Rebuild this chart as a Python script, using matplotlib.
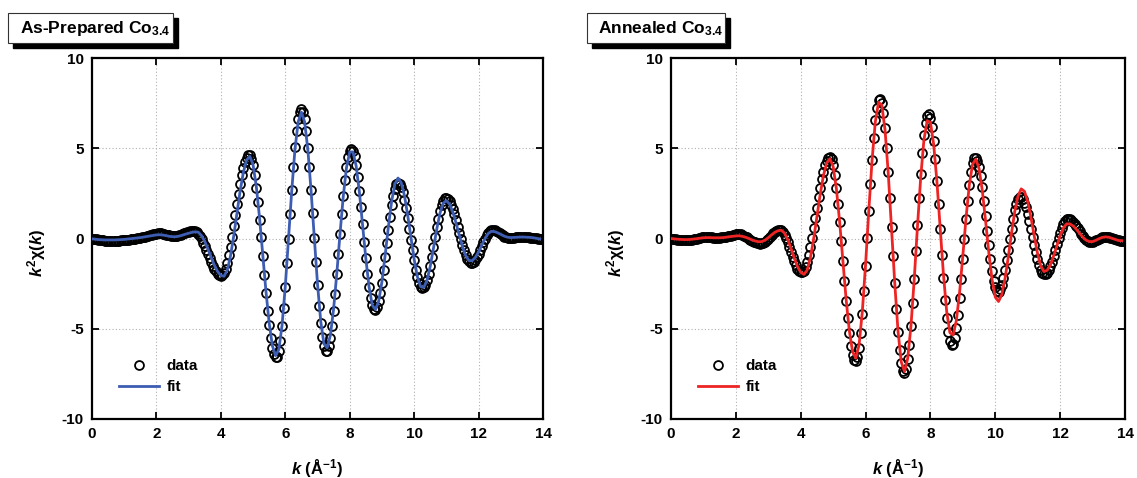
import numpy as np
import matplotlib
matplotlib.use("Agg")
import matplotlib.pyplot as plt
from matplotlib.patches import Rectangle
from matplotlib.lines import Line2D

plt.rcParams['font.family'] = ['Liberation Sans', 'DejaVu Sans']
plt.rcParams['font.weight'] = 'bold'
plt.rcParams['mathtext.fontset'] = 'custom'
plt.rcParams['mathtext.rm'] = 'Liberation Sans:bold'
plt.rcParams['mathtext.it'] = 'Liberation Sans:italic:bold'
plt.rcParams['mathtext.bf'] = 'Liberation Sans:bold'
plt.rcParams['axes.unicode_minus'] = False

# ---------------- data ----------------
K_STEP_DATA = 0.05
K_STEP_FIT = 0.1

asprep_data = [
    0.00, -0.02, -0.04, -0.05, -0.07, -0.08, -0.10, -0.11, -0.12, -0.12, -0.13, -0.13, -0.13, -0.13, -0.13, -0.13, -0.12, -0.12, -0.11, -0.11,
    -0.10, -0.09, -0.07, -0.06, -0.04, -0.03, -0.01, 0.00, 0.02, 0.03, 0.05, 0.07, 0.09, 0.11, 0.13, 0.15, 0.18, 0.20, 0.23, 0.25,
    0.27, 0.28, 0.28, 0.28, 0.26, 0.24, 0.22, 0.19, 0.17, 0.15, 0.14, 0.13, 0.13, 0.14, 0.17, 0.21, 0.25, 0.29, 0.33, 0.36,
    0.38, 0.41, 0.42, 0.43, 0.41, 0.35, 0.25, 0.12, -0.04, -0.23, -0.44, -0.65, -0.88, -1.10, -1.31, -1.51, -1.68, -1.82, -1.94, -2.01,
    -2.05, -2.03, -1.91, -1.68, -1.36, -0.94, -0.46, 0.10, 0.68, 1.29, 1.89, 2.47, 3.03, 3.51, 3.93, 4.25, 4.48, 4.60, 4.60, 4.43,
    4.07, 3.53, 2.82, 2.00, 1.05, 0.07, -0.99, -2.04, -3.03, -3.99, -4.80, -5.51, -6.05, -6.41, -6.58, -6.55, -6.24, -5.68, -4.87, -3.85,
    -2.68, -1.38, 0.00, 1.38, 2.71, 3.95, 5.05, 5.94, 6.60, 7.01, 7.15, 7.02, 6.60, 5.93, 5.03, 3.95, 2.71, 1.40, 0.05, -1.30,
    -2.58, -3.72, -4.70, -5.46, -5.98, -6.22, -6.21, -5.96, -5.50, -4.84, -4.01, -3.06, -1.99, -0.87, 0.25, 1.33, 2.34, 3.24, 3.96, 4.50,
    4.84, 4.95, 4.85, 4.55, 4.06, 3.43, 2.62, 1.74, 0.79, -0.17, -1.08, -1.94, -2.68, -3.27, -3.69, -3.91, -3.94, -3.79, -3.48, -3.03,
    -2.45, -1.77, -1.04, -0.27, 0.48, 1.20, 1.84, 2.37, 2.77, 3.02, 3.10, 3.04, 2.85, 2.56, 2.16, 1.67, 1.12, 0.53, -0.06, -0.66,
    -1.21, -1.72, -2.14, -2.46, -2.66, -2.75, -2.71, -2.56, -2.30, -1.94, -1.50, -1.00, -0.47, 0.08, 0.61, 1.10, 1.52, 1.86, 2.10, 2.23,
    2.24, 2.18, 2.05, 1.86, 1.62, 1.33, 1.01, 0.66, 0.31, -0.04, -0.37, -0.65, -0.91, -1.12, -1.26, -1.34, -1.35, -1.30, -1.20, -1.05,
    -0.87, -0.66, -0.44, -0.21, 0.00, 0.18, 0.33, 0.43, 0.48, 0.48, 0.46, 0.42, 0.36, 0.30, 0.24, 0.17, 0.11, 0.07, 0.04, 0.03,
    0.03, 0.04, 0.05, 0.06, 0.07, 0.08, 0.08, 0.08, 0.08, 0.07, 0.07, 0.06, 0.05, 0.05, 0.04, 0.03, 0.01, -0.01, -0.03, -0.05,
]

asprep_fit = [
    -0.02, -0.04, -0.06, -0.07, -0.08, -0.08, -0.08, -0.08, -0.07, -0.06,
    -0.05, -0.03, -0.01, 0.01, 0.03, 0.05, 0.08, 0.11, 0.14, 0.17,
    0.20, 0.21, 0.19, 0.16, 0.12, 0.10, 0.10, 0.13, 0.18, 0.24,
    0.29, 0.34, 0.37, 0.35, 0.16, -0.16, -0.58, -1.05, -1.48, -1.83,
    -2.05, -2.09, -1.75, -0.96, 0.15, 1.42, 2.65, 3.68, 4.35, 4.55,
    4.08, 2.89, 1.16, -0.88, -2.92, -4.69, -5.95, -6.49, -6.15, -4.80,
    -2.65, -0.02, 2.64, 4.93, 6.46, 7.00, 6.46, 4.93, 2.66, 0.06,
    -2.51, -4.58, -5.84, -6.06, -5.36, -3.90, -1.92, 0.28, 2.34, 3.93,
    4.79, 4.80, 4.02, 2.58, 0.77, -1.10, -2.68, -3.69, -3.94, -3.46,
    -2.40, -0.93, 0.64, 2.04, 3.01, 3.35, 3.09, 2.37, 1.29, 0.05,
    -1.15, -2.11, -2.66, -2.71, -2.31, -1.54, -0.54, 0.50, 1.39, 1.95,
    2.10, 1.90, 1.47, 0.86, 0.19, -0.45, -0.95, -1.22, -1.23, -1.05,
    -0.74, -0.37, 0.00, 0.28, 0.40, 0.38, 0.31, 0.22, 0.13, 0.07,
    0.05, 0.06, 0.07, 0.08, 0.08, 0.07, 0.06, 0.04, 0.01, -0.03,
]

annealed_data = [
    0.00, -0.01, -0.03, -0.04, -0.06, -0.07, -0.08, -0.09, -0.10, -0.10, -0.10, -0.09, -0.08, -0.06, -0.04, -0.02, 0.00, 0.02, 0.04, 0.06,
    0.07, 0.08, 0.08, 0.08, 0.07, 0.06, 0.05, 0.05, 0.05, 0.05, 0.05, 0.06, 0.07, 0.08, 0.10, 0.12, 0.14, 0.16, 0.19, 0.21,
    0.23, 0.24, 0.24, 0.23, 0.20, 0.16, 0.11, 0.06, 0.00, -0.06, -0.12, -0.17, -0.22, -0.25, -0.27, -0.28, -0.27, -0.23, -0.17, -0.09,
    0.00, 0.10, 0.20, 0.29, 0.37, 0.43, 0.47, 0.48, 0.45, 0.36, 0.21, 0.01, -0.22, -0.48, -0.75, -1.02, -1.27, -1.49, -1.67, -1.80,
    -1.87, -1.87, -1.78, -1.59, -1.30, -0.92, -0.48, 0.01, 0.56, 1.14, 1.71, 2.28, 2.80, 3.27, 3.70, 4.05, 4.30, 4.45, 4.50, 4.39,
    4.06, 3.53, 2.81, 1.93, 0.93, -0.13, -1.26, -2.38, -3.47, -4.43, -5.25, -5.93, -6.44, -6.73, -6.79, -6.57, -6.04, -5.23, -4.17, -2.89,
    -1.50, 0.02, 1.54, 3.01, 4.37, 5.57, 6.54, 7.24, 7.65, 7.74, 7.51, 6.96, 6.11, 5.00, 3.66, 2.22, 0.62, -0.96, -2.49, -3.92,
    -5.17, -6.19, -6.92, -7.34, -7.44, -7.22, -6.70, -5.90, -4.85, -3.59, -2.23, -0.72, 0.77, 2.22, 3.57, 4.75, 5.71, 6.40, 6.80, 6.89,
    6.68, 6.18, 5.40, 4.38, 3.21, 1.90, 0.50, -0.90, -2.21, -3.38, -4.40, -5.18, -5.68, -5.90, -5.82, -5.50, -4.96, -4.22, -3.30, -2.27,
    -1.16, -0.02, 1.08, 2.10, 2.98, 3.69, 4.19, 4.46, 4.48, 4.32, 3.98, 3.46, 2.83, 2.08, 1.27, 0.44, -0.38, -1.13, -1.80, -2.33,
    -2.71, -2.91, -2.94, -2.82, -2.57, -2.20, -1.74, -1.20, -0.62, -0.03, 0.55, 1.09, 1.56, 1.92, 2.17, 2.29, 2.28, 2.18, 1.99, 1.72,
    1.38, 0.98, 0.55, 0.10, -0.34, -0.77, -1.14, -1.46, -1.73, -1.91, -1.99, -1.99, -1.91, -1.76, -1.55, -1.28, -0.98, -0.65, -0.32, 0.02,
    0.33, 0.60, 0.82, 0.98, 1.08, 1.10, 1.08, 1.02, 0.94, 0.83, 0.70, 0.56, 0.42, 0.27, 0.14, 0.02, -0.07, -0.14, -0.17, -0.18,
    -0.17, -0.14, -0.10, -0.06, -0.01, 0.03, 0.06, 0.08, 0.09, 0.08, 0.07, 0.04, 0.01, -0.02, -0.05, -0.08, -0.11, -0.12, -0.13, -0.13,
]

annealed_fit = [
    0.00, -0.02, -0.04, -0.05, -0.06, -0.06, -0.05, -0.03, -0.01, 0.02,
    0.04, 0.05, 0.05, 0.04, 0.04, 0.04, 0.05, 0.07, 0.10, 0.12,
    0.14, 0.15, 0.12, 0.07, 0.00, -0.08, -0.14, -0.18, -0.17, -0.09,
    0.04, 0.20, 0.34, 0.43, 0.46, 0.30, -0.06, -0.55, -1.08, -1.55,
    -1.87, -1.99, -1.75, -1.05, -0.01, 1.22, 2.44, 3.48, 4.18, 4.42,
    3.99, 2.76, 0.93, -1.22, -3.37, -5.12, -6.28, -6.63, -5.89, -4.05,
    -1.44, 1.55, 4.33, 6.46, 7.54, 7.40, 6.02, 3.60, 0.60, -2.48,
    -5.12, -6.84, -7.37, -6.64, -4.84, -2.27, 0.65, 3.38, 5.47, 6.53,
    6.43, 5.22, 3.16, 0.60, -1.96, -4.02, -5.22, -5.35, -4.54, -2.97,
    -0.94, 1.18, 2.98, 4.12, 4.40, 3.87, 2.65, 0.99, -0.77, -2.27,
    -3.25, -3.49, -3.11, -2.22, -1.04, 0.29, 1.49, 2.35, 2.75, 2.61,
    2.05, 1.17, 0.15, -0.80, -1.51, -1.83, -1.76, -1.45, -0.96, -0.39,
    0.16, 0.59, 0.81, 0.81, 0.70, 0.51, 0.29, 0.07, -0.09, -0.17,
    -0.17, -0.10, -0.01, 0.06, 0.09, 0.07, 0.01, -0.05, -0.11, -0.12,
]

panel_titles = ["As-Prepared Co$_{3.4}$", "Annealed Co$_{3.4}$"]
fit_colors = ["#3d5db3", "#ee2424"]
x_ticks = [0, 2, 4, 6, 8, 10, 12, 14]
y_ticks = [-10, -5, 0, 5, 10]

# ---------------- figure ----------------
W, H = 1137, 478
fig = plt.figure(figsize=(W / 100, H / 100), dpi=100)

def fx(px):
    return px / W

def fy(py):
    return 1 - py / H

axes_px = [(92, 58, 543, 419), (671, 58, 1125, 419)]
box_px = [(8, 13, 173, 43), (587, 13, 725, 43)]
text_px = [(20, 33), (598, 33)]

series = [(asprep_data, asprep_fit), (annealed_data, annealed_fit)]

for i in range(2):
    x0, y0, x1, y1 = axes_px[i]
    ax = fig.add_axes([fx(x0), fy(y1), fx(x1) - fx(x0), fy(y0) - fy(y1)])
    yd, yf = series[i]
    kd = np.arange(len(yd)) * K_STEP_DATA
    kf = np.arange(len(yf)) * K_STEP_FIT
    ax.plot(kd, yd, linestyle='none', marker='o', ms=6.4, mfc='none',
            mec='black', mew=1.3, zorder=2)
    ax.plot(kf, yf, color=fit_colors[i], lw=2.0, zorder=3)

    ax.set_xlim(0, 14)
    ax.set_ylim(-10, 10)
    ax.set_xticks(x_ticks)
    ax.set_yticks(y_ticks)
    ax.grid(True, color='#b0b0b0', linestyle=(0, (1, 2)), linewidth=0.8)
    ax.set_axisbelow(True)
    ax.tick_params(direction='in', length=5, width=1.3, top=True, right=True,
                   labelsize=11, pad=6)
    for lab in ax.get_xticklabels() + ax.get_yticklabels():
        lab.set_fontweight('bold')
    for sp in ax.spines.values():
        sp.set_linewidth(1.6)

    ax.set_xlabel(r"$k$ (Å$^{-1}$)", fontsize=12, fontweight='bold')
    ax.xaxis.set_label_coords(0.5, -0.105)
    ax.set_ylabel(r"$k^{2}\mathrm{\chi}(k)$", fontsize=12, fontweight='bold')
    ax.yaxis.set_label_coords(-0.098, 0.46)

    handles = [
        Line2D([], [], linestyle='none', marker='o', ms=6.4, mfc='none', mec='black', mew=1.3),
        Line2D([], [], color=fit_colors[i], lw=2.0),
    ]
    leg = ax.legend(handles, ["data", "fit"], loc='upper left',
                    bbox_to_anchor=(0.06, 0.165), frameon=False,
                    prop={'weight': 'bold', 'size': 11}, handlelength=2.6,
                    handletextpad=0.5, borderpad=0, borderaxespad=0,
                    labelspacing=0.45)

    # title box with drop shadow
    bx0, by0, bx1, by1 = box_px[i]
    fig.add_artist(Rectangle((fx(bx0 + 5), fy(by1 + 5)), fx(bx1 - bx0), fy(by0) - fy(by1),
                             transform=fig.transFigure, facecolor='black',
                             edgecolor='black', zorder=5))
    fig.add_artist(Rectangle((fx(bx0), fy(by1)), fx(bx1 - bx0), fy(by0) - fy(by1),
                             transform=fig.transFigure, facecolor='white',
                             edgecolor='#333333', linewidth=0.8, zorder=6))
    tx, ty = text_px[i]
    fig.text(fx(tx), fy(ty), panel_titles[i], fontsize=12.5, fontweight='bold',
             ha='left', va='baseline', zorder=7)

fig.savefig("out.png", dpi=100)
